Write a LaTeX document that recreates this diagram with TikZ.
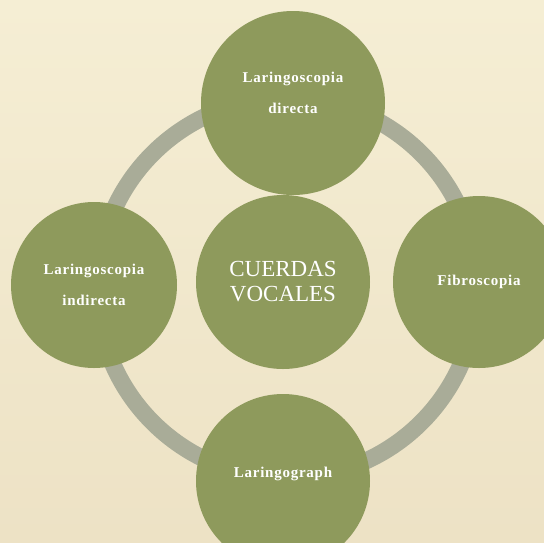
\documentclass[tikz,border=0pt]{standalone}
\usepackage{fontspec}
\setmainfont{Liberation Serif}
\usepackage{tikz}
\usetikzlibrary{positioning,calc,shapes}
\definecolor{paper}{HTML}{F5EED4}
\definecolor{paperdark}{HTML}{EDE2C5}
\definecolor{olive}{HTML}{8E9A5C}
\definecolor{ringgray}{HTML}{A9AC98}
\newcommand{\smalllabel}{\bfseries\addfontfeature{LetterSpace=5}\fontsize{15}{31}\selectfont}

\begin{document}
\begin{tikzpicture}[x=1pt,y=-1pt,
    bubble/.style={circle,fill=olive,text=white,align=center,inner sep=0pt,font=\smalllabel},
    ring/.style={draw=ringgray,line width=17pt}]
        \shade[top color=paper,bottom color=paperdark] (0,0) rectangle (544,542);
        \useasboundingbox (0,0) rectangle (544,542);
        \coordinate (hub) at (287,288);
        \draw[ring] (hub) circle [radius=190];
        % the five circles
        \node[bubble,minimum size=184pt,text depth=20pt] (direct) at (293,103) {Laringoscopia\\directa};
        \node[bubble,minimum size=166pt] (indirect) at (94,285) {Laringoscopia\\indirecta};
        \node[bubble,minimum size=172pt] (fibro) at (479,282) {Fibroscopia};
        \node[bubble,minimum size=174pt,text depth=18pt] (graph) at (283,481) {Laringograph};
        \node[bubble,minimum size=174pt,font=\fontsize{23}{25}\selectfont] (core) at (283,282) {CUERDAS\\VOCALES};
    \end{tikzpicture}
\end{document}
